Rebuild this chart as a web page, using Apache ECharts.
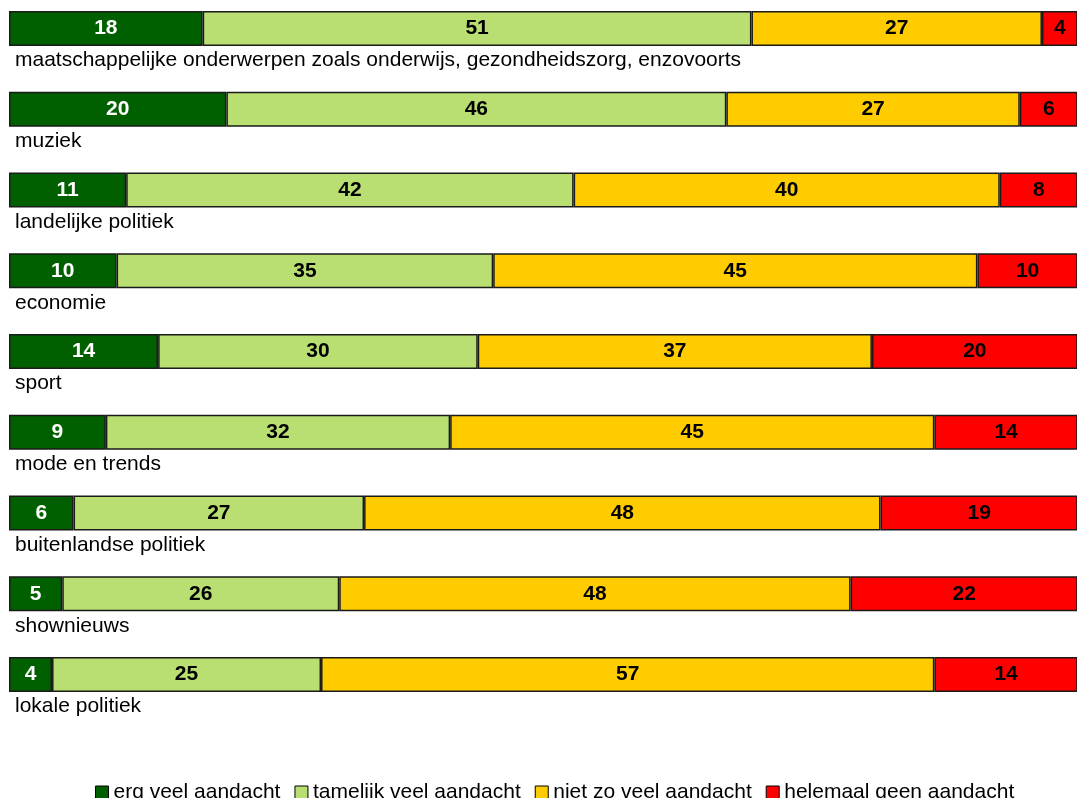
<!DOCTYPE html>
<html>
<head>
<meta charset="utf-8">
<script src="https://cdn.jsdelivr.net/npm/echarts@6/dist/echarts.min.js"></script>
<style>
  html, body { margin: 0; padding: 0; background: #fff; }
  #chart { width: 1077px; height: 798px; }
</style>
</head>
<body>
<div id="chart"></div>
<script>
const categories = [
  'maatschappelijke onderwerpen zoals onderwijs, gezondheidszorg, enzovoorts',
  'muziek',
  'landelijke politiek',
  'economie',
  'sport',
  'mode en trends',
  'buitenlandse politiek',
  'shownieuws',
  'lokale politiek'
];
const seriesNames = ['erg veel aandacht', 'tamelijk veel aandacht', 'niet zo veel aandacht', 'helemaal geen aandacht'];
const ergVeel   = [18, 20, 11, 10, 14, 9, 6, 5, 4];
const tamelijk  = [51, 46, 42, 35, 30, 32, 27, 26, 25];
const nietZo    = [27, 27, 40, 45, 37, 45, 48, 48, 57];
const helemaal  = [4, 6, 8, 10, 20, 14, 19, 22, 14];

const colors = ['#006000', '#B9DF72', '#FFCC00', '#FF0000'];
const labelColors = ['#ffffff', '#000000', '#000000', '#000000'];
const raw = [ergVeel, tamelijk, nietZo, helemaal];
const rowSums = categories.map((_, i) => raw.reduce((s, a) => s + a[i], 0));
const FONT = "'Liberation Sans', Arial, Helvetica, sans-serif";

// the full 100% bar runs slightly past the right edge of the picture
const VISIBLE_MAX = 100 * 1068 / 1076;

const series = raw.map((arr, k) => ({
  name: seriesNames[k],
  type: 'bar',
  stack: 'total',
  barWidth: 35,
  data: arr.map((v, i) => ({ value: v / rowSums[i] * 100, raw: v })),
  itemStyle: { color: colors[k], borderColor: '#1a1a1a', borderWidth: 1.5 },
  label: {
    show: true,
    position: 'inside',
    formatter: p => String(p.data.raw),
    color: labelColors[k],
    fontFamily: FONT,
    fontWeight: 'bold',
    fontSize: 21
  },
  emphasis: { disabled: true }
}));

// category names written under each bar
series.push({
  name: 'labels',
  type: 'scatter',
  symbolSize: 0,
  clip: false,
  silent: true,
  itemStyle: { opacity: 1, color: '#000' },
  data: categories.map((c, i) => [0, c]),
  label: {
    show: true,
    position: 'right',
    distance: 6,
    offset: [0, 32],
    formatter: p => p.value[1],
    color: '#000000',
    opacity: 1,
    fontFamily: FONT,
    fontSize: 21
  },
  emphasis: { disabled: true }
});

const chart = echarts.init(document.getElementById('chart'), null, { renderer: 'canvas' });
chart.setOption({
  animation: false,
  backgroundColor: '#ffffff',
  grid: { left: 9, right: 0, top: 28.4, height: 646.2, containLabel: false },
  xAxis: {
    type: 'value', min: 0, max: VISIBLE_MAX,
    show: false
  },
  yAxis: {
    type: 'category',
    data: categories,
    inverse: true,
    boundaryGap: false,
    axisLine: { show: false },
    axisTick: { show: false },
    splitLine: { show: false },
    axisLabel: { show: false }
  },
  legend: {
    data: seriesNames,
    left: 90,
    top: 777,
    icon: 'rect',
    itemWidth: 13,
    itemHeight: 13,
    itemGap: 14,
    itemStyle: { borderColor: '#000', borderWidth: 1 },
    textStyle: { color: '#000', fontFamily: FONT, fontSize: 21 }
  },
  series: series
});
</script>
</body>
</html>
